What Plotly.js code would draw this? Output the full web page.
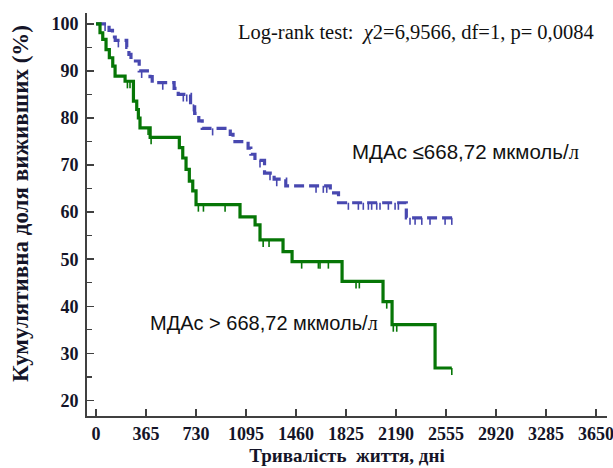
<!DOCTYPE html>
<html>
<head>
<meta charset="utf-8">
<script src="https://cdn.plot.ly/plotly-3.0.1.min.js"></script>
<style>html,body{margin:0;padding:0;background:#fff;}#chart{width:613px;height:468px;}</style>
</head>
<body>
<div id="chart"></div>
<script>
// Kaplan–Meier steps: time of event (days) and survival (%) after it
var greenT = [0, 29, 49, 73, 97, 122, 139, 212, 273, 297, 309, 321, 395, 608, 633, 657, 681, 706, 730, 1051, 1161, 1197, 1365, 1431, 1796, 2095, 2161, 2475, 2597];
var greenS = [100, 98.1, 96.7, 94.5, 92.8, 91.0, 88.9, 87.8, 83.6, 81.8, 80.0, 77.9, 75.9, 73.7, 71.5, 69.1, 66.6, 64.5, 61.6, 59.0, 57.3, 54.1, 51.6, 49.5, 45.3, 41.0, 36.1, 26.9, 26.9];
var greenCens = [229, 248, 380, 402, 747, 784, 942, 1220, 1263, 1501, 1623, 1635, 1696, 1898, 1922, 2122, 2170, 2195, 2597];

var blueT = [0, 95, 120, 140, 224, 240, 255, 315, 394, 410, 570, 600, 690, 720, 750, 775, 980, 1000, 1110, 1130, 1160, 1230, 1300, 1385, 1710, 1770, 2265, 2600];
var blueS = [100, 98.6, 97.2, 96.5, 95.0, 93.5, 92.1, 90.0, 88.8, 87.5, 86.3, 85.0, 82.9, 81.0, 79.4, 77.8, 76.5, 75.0, 73.6, 72.3, 71.0, 68.3, 67.0, 65.6, 64.1, 62.0, 58.8, 58.8];
var blueCens = [66, 163, 333, 487, 637, 662, 711, 851, 1197, 1270, 1319, 1606, 1659, 1684, 1842, 1915, 1951, 1988, 2012, 2049, 2073, 2134, 2183, 2207, 2292, 2329, 2378, 2438, 2548, 2597];

var xTicks = [0, 365, 730, 1095, 1460, 1825, 2190, 2555, 2920, 3285, 3650];
var yTicks = [20, 30, 40, 50, 60, 70, 80, 90, 100];

var SERIF_L = '<span style="font-family:Liberation Serif">л</span>';
var labelLow = 'МДАс ≤668,72 мкмоль/' + SERIF_L;
var labelHigh = 'МДАс > 668,72 мкмоль/' + SERIF_L;
var testText = 'Log-rank test:  <i>χ</i>2=6,9566, df=1, p= 0,0084';
var xTitle = 'Тривалість\u00a0\u00a0життя, дні';
var yTitle = 'Кумулятивна доля виживших (%)';

var GREEN = '#067606', BLUE = '#4848b0', INK = '#141428';

function levelAt(T, S, t) {
  var v = S[0];
  for (var i = 0; i < T.length; i++) { if (T[i] <= t) v = S[i]; }
  return v;
}
function censorTrace(T, S, C, color) {
  var x = [], y = [];
  C.forEach(function (t) {
    var s = levelAt(T, S, t);
    x.push(t, t, null); y.push(s, s - 1.5, null);
  });
  return {x: x, y: y, mode: 'lines', line: {color: color, width: 1.6}, hoverinfo: 'skip', showlegend: false};
}

var traces = [
  {x: blueT, y: blueS, mode: 'lines', line: {shape: 'hv', color: BLUE, width: 3.2, dash: '10px,5px'}, showlegend: false},
  censorTrace(blueT, blueS, blueCens, BLUE),
  {x: greenT, y: greenS, mode: 'lines', line: {shape: 'hv', color: GREEN, width: 3.2}, showlegend: false},
  censorTrace(greenT, greenS, greenCens, GREEN)
];

var tickFont = {family: 'Liberation Serif', size: 18, weight: 'bold', color: INK};
var layout = {
  width: 613, height: 468,
  margin: {l: 87, r: 6, t: 13, b: 52},
  paper_bgcolor: '#fff', plot_bgcolor: '#fff',
  showlegend: false,
  xaxis: {
    range: [-66, 3730], tickvals: xTicks, ticktext: xTicks.map(String),
    showgrid: false, zeroline: false, showline: true, linecolor: '#404040', linewidth: 2,
    ticks: 'inside', ticklen: 7, tickwidth: 1.5, tickcolor: '#404040',
    tickfont: tickFont, ticklabeloverflow: 'allow',
    title: {text: xTitle, font: {family: 'Liberation Serif', size: 19, weight: 'bold', color: INK}, standoff: 6}
  },
  yaxis: {
    range: [16.7, 102.3], tickvals: yTicks, ticktext: yTicks.map(String),
    showgrid: false, zeroline: false, showline: true, linecolor: '#404040', linewidth: 2,
    ticks: 'inside', ticklen: 7, tickwidth: 1.5, tickcolor: '#404040',
    minor: {dtick: 5, ticks: 'inside', ticklen: 5, tickwidth: 1.2, tickcolor: '#404040', showgrid: false},
    tickfont: tickFont, ticklabelstandoff: 3
  },
  annotations: [
    {x: -0.129, y: 0.5285, xref: 'paper', yref: 'paper', xanchor: 'center', yanchor: 'middle', textangle: -90,
     showarrow: false, text: yTitle, font: {family: 'Liberation Serif', size: 23, weight: 'bold', color: INK}},
    {x: 1022, y: 98.1, xref: 'x', yref: 'y', xanchor: 'left', yanchor: 'middle', showarrow: false, text: testText,
     font: {family: 'Liberation Serif', size: 20.5, color: '#111'}},
    {x: 1854, y: 72.8, xref: 'x', yref: 'y', xanchor: 'left', yanchor: 'middle', showarrow: false, text: labelLow,
     font: {family: 'Liberation Sans', size: 20.5, color: '#111'}},
    {x: 380, y: 36.5, xref: 'x', yref: 'y', xanchor: 'left', yanchor: 'middle', showarrow: false, text: labelHigh,
     font: {family: 'Liberation Sans', size: 20, color: '#111'}}
  ]
};

Plotly.newPlot('chart', traces, layout, {displayModeBar: false, staticPlot: true});
</script>
</body>
</html>
